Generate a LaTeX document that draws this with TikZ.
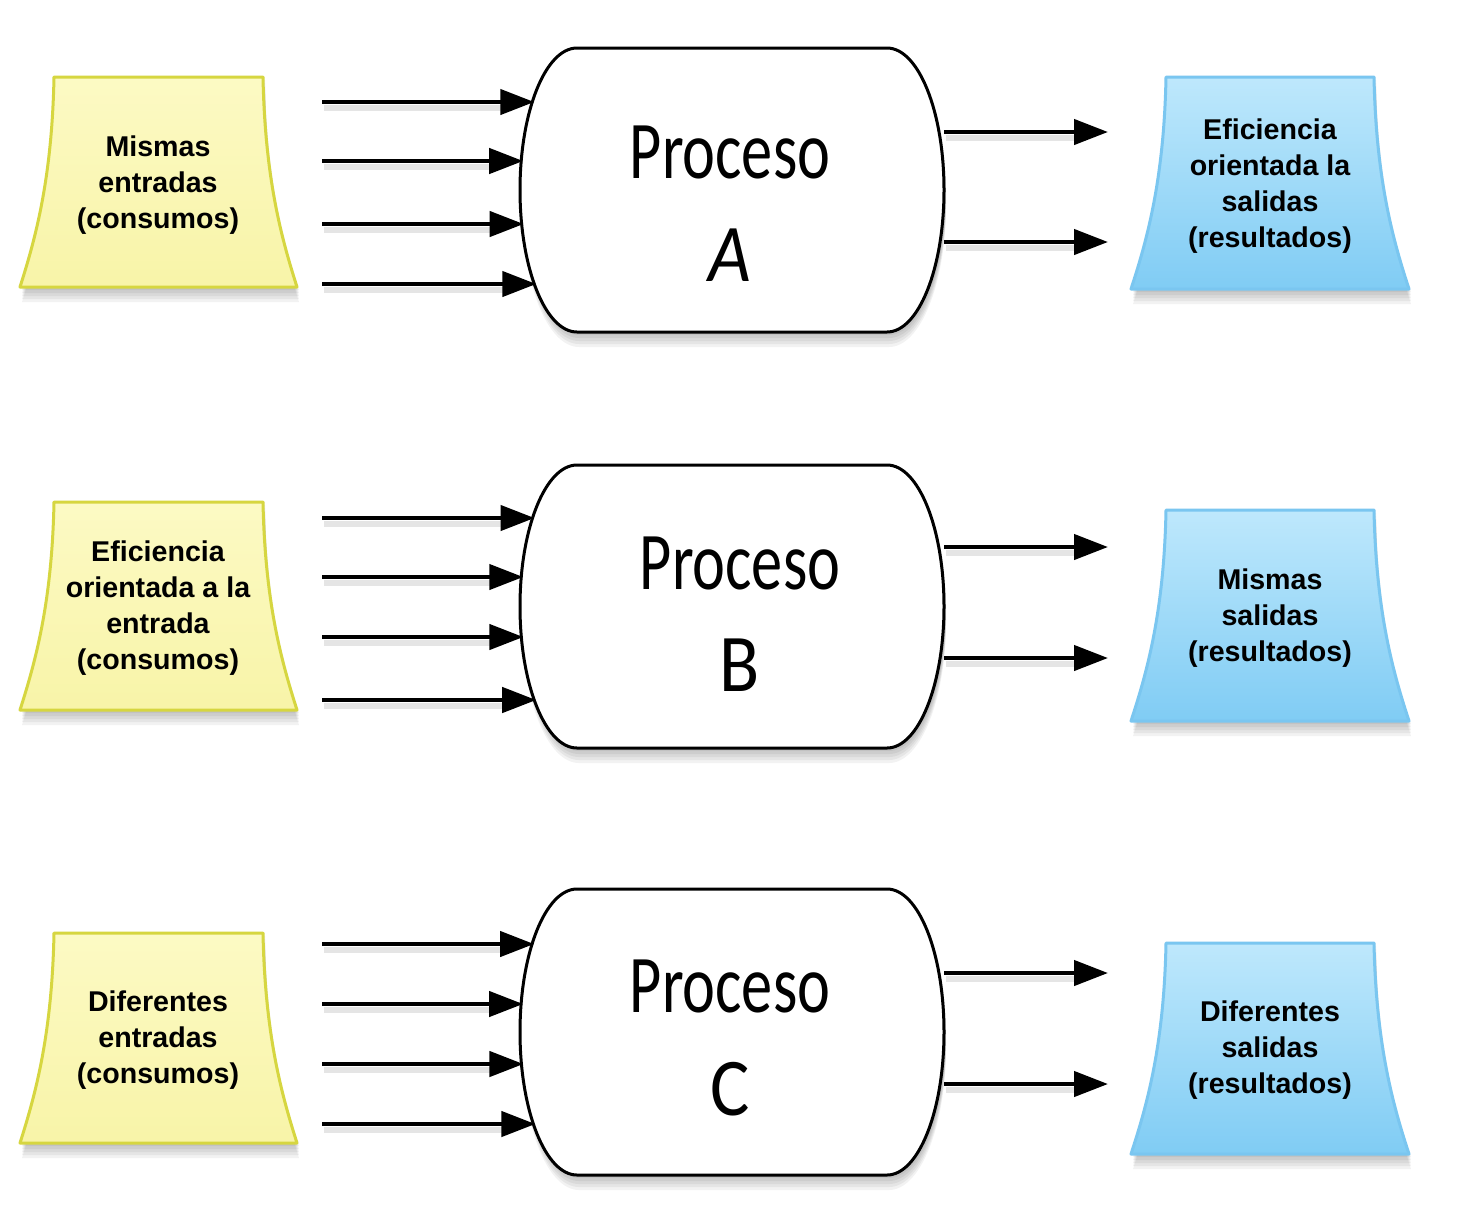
\documentclass[tikz,border=0pt]{standalone}
\usepackage{fontspec}
\usepackage{graphicx}
\setmainfont{Liberation Sans}
\newfontfamily\procfont{Carlito}
\usetikzlibrary{arrows.meta}
\definecolor{yfilltop}{RGB}{252,250,196}
\definecolor{yfillbot}{RGB}{248,244,168}
\definecolor{ydraw}{RGB}{214,214,64}
\definecolor{bfilltop}{RGB}{190,232,252}
\definecolor{bfillbot}{RGB}{128,204,244}
\definecolor{bdraw}{RGB}{122,198,240}
% tapered box: x-left-top, x-right-top, top, bottom, flare
\newcommand\flarepath[5]{(#1,#3) -- (#2,#3) .. controls ({#2+2},{#3+0.49*(#4-#3)}) and ({#2+0.56*#5},{#4-47}) .. ({#2+#5},#4) -- ({#1-#5},#4) .. controls ({#1-0.56*#5},{#4-47}) and ({#1-2},{#3+0.49*(#4-#3)}) .. (#1,#3) -- cycle}
% process shape: top, bottom
\newcommand\procpath[2]{(577,#1) -- (887,#1) .. controls (918.5,#1) and (944,{(#1+#2)/2-0.276*(#2-#1)}) .. (944,{(#1+#2)/2}) .. controls (944,{(#1+#2)/2+0.276*(#2-#1)}) and (918.5,#2) .. (887,#2) -- (577,#2) .. controls (545.5,#2) and (520,{(#1+#2)/2+0.276*(#2-#1)}) .. (520,{(#1+#2)/2}) .. controls (520,{(#1+#2)/2-0.276*(#2-#1)}) and (545.5,#1) .. (577,#1) -- cycle}
\newcommand\softshadow[1]{%
  \foreach \s in {3,6,9,12,15}{\fill[black,opacity=0.05] [shift={(2,\s)}] #1;}}
\tikzset{
  ybox/.style={top color=yfilltop,bottom color=yfillbot,draw=ydraw,line width=1.5pt,line join=round},
  bbox/.style={top color=bfilltop,bottom color=bfillbot,draw=bdraw,line width=1.5pt,line join=round},
  procbox/.style={fill=white,draw=black,line width=1.5pt},
  boxtext/.style={align=center,font=\bfseries\fontsize{14.3}{18}\selectfont,text=black},
  proctext/.style={font=\procfont\fontsize{41}{41}\selectfont,inner sep=0pt},
  arr/.style={line width=2.2pt,-{Triangle[length=17pt,width=12.5pt]}},
  arrshadow/.style={line width=3pt,black,opacity=0.10}
}
\begin{document}
\begin{tikzpicture}[x=0.5pt,y=-0.5pt]
\useasboundingbox (0,0) rectangle (1478,1228);
\fill[white] (0,0) rectangle (1478,1228);
% ---------- shapes ----------
\softshadow{\flarepath{54}{263}{77}{287}{34}}
\softshadow{\flarepath{54}{263}{502}{710}{34}}
\softshadow{\flarepath{54}{263}{933}{1143}{34}}
\softshadow{\flarepath{1166}{1374}{77}{289}{35}}
\softshadow{\flarepath{1166}{1374}{510}{721}{35}}
\softshadow{\flarepath{1166}{1374}{943}{1154}{35}}
\softshadow{\procpath{48}{332}}
\softshadow{\procpath{465}{748}}
\softshadow{\procpath{889}{1175}}
\path[ybox] \flarepath{54}{263}{77}{287}{34};
\path[ybox] \flarepath{54}{263}{502}{710}{34};
\path[ybox] \flarepath{54}{263}{933}{1143}{34};
\path[bbox] \flarepath{1166}{1374}{77}{289}{35};
\path[bbox] \flarepath{1166}{1374}{510}{721}{35};
\path[bbox] \flarepath{1166}{1374}{943}{1154}{35};
\path[procbox] \procpath{48}{332};
\path[procbox] \procpath{465}{748};
\path[procbox] \procpath{889}{1175};
% ---------- texts ----------
\node[boxtext] (inA) at (158,185) {Mismas\\entradas\\(consumos)};
\node[boxtext] (inB) at (158,608) {Eficiencia\\orientada a la\\entrada\\(consumos)};
\node[boxtext] (inC) at (158,1040) {Diferentes\\entradas\\(consumos)};
\node[boxtext] (outA) at (1270,186) {Eficiencia\\orientada la\\salidas\\(resultados)};
\node[boxtext] (outB) at (1270,618) {Mismas\\salidas\\(resultados)};
\node[boxtext] (outC) at (1270,1050) {Diferentes\\salidas\\(resultados)};
\node[proctext] (pA) at (730,152) {\scalebox{0.76}[1]{Proceso}};
\node[proctext] (pAl) at (730,255) {\scalebox{0.9}[1]{\itshape A}};
\node[proctext] (pB) at (740,563) {\scalebox{0.76}[1]{Proceso}};
\node[proctext] (pBl) at (740,665) {\scalebox{0.9}[1]{B}};
\node[proctext] (pC) at (730,986) {\scalebox{0.76}[1]{Proceso}};
\node[proctext] (pCl) at (730,1089) {\scalebox{0.9}[1]{C}};
% ---------- arrows ----------
\foreach \r/\T/\B/\i/\j/\k/\l/\o/\p in {A/48/332/102/161/224/284/132/242, B/465/748/518/577/637/700/547/658, C/889/1175/944/1004/1064/1124/973/1084}{
  \foreach \n/\y in {1/\i,2/\j,3/\k,4/\l}{
    \pgfmathsetmacro\ex{577-57*sqrt(max(0,1-((\y-(\T+\B)/2)/((\B-\T)/2))^2))+2}
    \coordinate (in\r\n s) at (322,\y);
    \coordinate (in\r\n e) at (\ex,\y);
    \draw[arrshadow] ([shift={(2,6)}]in\r\n s) -- ([shift={(-22,6)}]in\r\n e);
    \draw[arr] (in\r\n s) -- (in\r\n e);
  }
  \foreach \n/\y in {1/\o,2/\p}{
    \coordinate (out\r\n s) at (944,\y);
    \coordinate (out\r\n e) at (1108,\y);
    \draw[arrshadow] ([shift={(2,6)}]out\r\n s) -- ([shift={(-22,6)}]out\r\n e);
    \draw[arr] (out\r\n s) -- (out\r\n e);
  }
}
\end{tikzpicture}
\end{document}
